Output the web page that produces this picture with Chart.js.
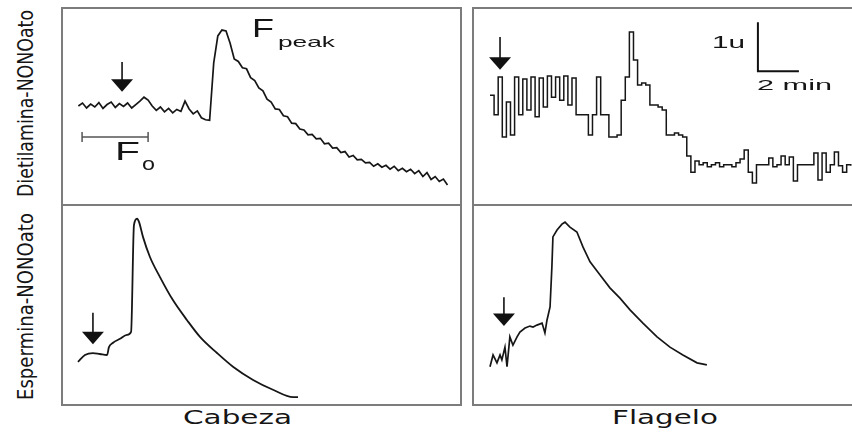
<!DOCTYPE html>
<html><head><meta charset="utf-8">
<script src="https://cdn.jsdelivr.net/npm/chart.js@4/dist/chart.umd.min.js"></script>
<style>
html,body{margin:0;padding:0;background:#fff;}
#stage{position:relative;width:852px;height:436px;overflow:hidden;background:#fff;}
.col{position:absolute;border:2px solid #7c7c7c;box-sizing:border-box;}
.sep{position:absolute;height:2px;background:#7c7c7c;}
canvas{position:absolute;}
.lbl{position:absolute;white-space:nowrap;color:#151515;transform-origin:0 0;}
</style></head>
<body><div id="stage">
<div class="col" style="left:61px;top:7px;width:401px;height:399px"></div>
<div class="col" style="left:472px;top:7px;width:392px;height:399px"></div>
<div class="sep" style="left:61px;top:204px;width:401px"></div>
<div class="sep" style="left:472px;top:204px;width:392px"></div>
<canvas id="c1" width="397" height="195" style="left:63px;top:9px"></canvas>
<canvas id="c2" width="378" height="195" style="left:474px;top:9px"></canvas>
<canvas id="c3" width="397" height="198" style="left:63px;top:206px"></canvas>
<canvas id="c4" width="378" height="198" style="left:474px;top:206px"></canvas>
</div>
<script>
// ---------- DATA (time in min, fluorescence in u) ----------
const rowLabels = ["Dietilamina-NONOato", "Espermina-NONOato"];
const colLabels = ["Cabeza", "Flagelo"];

// Panel 1: Dietilamina / Cabeza (sampled every 0.2 min from t=0.8)
const p1Start = 0.8, p1Step = 0.2;
const p1Values = [
 2.02,2.08,1.98,2.06,2.00,2.09,1.97,2.05,2.10,1.99,2.07,2.01,2.08,1.98,2.05,2.12,
 2.20,2.14,2.02,1.93,2.00,1.90,1.97,1.88,1.95,1.91,2.12,1.96,1.86,1.92,1.78,1.74,
 1.73,2.90,3.45,3.57,3.55,3.30,2.98,2.93,2.80,2.78,2.60,2.54,2.39,2.33,2.16,2.10,
 1.96,1.95,1.82,1.80,1.67,1.66,1.55,1.53,1.43,1.44,1.35,1.36,1.25,1.26,1.16,1.17,
 1.07,1.09,0.98,1.01,0.92,0.93,0.86,0.87,0.79,0.84,0.77,0.81,0.73,0.79,0.70,0.75,
 0.68,0.73,0.64,0.70,0.58,0.66,0.52,0.58,0.48,0.53,0.41
];

// Panel 2: Dietilamina / Flagelo (sampled every 0.2 min from t=0.83)
const p2Start = 0.83, p2Step = 0.2;
const p2Values = [
 2.24,1.84,2.61,1.39,2.10,1.43,2.61,1.84,2.57,1.94,2.61,1.80,2.59,2.00,2.63,2.20,
 2.61,2.14,2.63,2.04,2.59,1.84,1.84,1.84,1.43,1.84,2.61,1.84,1.84,1.39,1.39,1.43,
 2.14,2.61,3.53,2.96,2.45,2.49,2.45,2.04,2.04,2.00,1.94,1.43,1.43,1.47,1.43,1.39,
 1.00,0.67,0.90,0.82,0.86,0.78,0.82,0.86,0.78,0.82,0.82,0.78,0.86,0.94,1.12,0.67,
 0.45,0.82,0.82,0.82,0.96,0.78,0.82,1.00,0.82,0.98,0.49,0.82,0.82,0.82,0.82,1.06,
 0.51,1.06,0.67,0.82,1.08,0.80,0.67,0.82,0.80
];

// Panel 3: Espermina / Cabeza
const p3Times  = [0.78,1.12,1.51,1.85,2.20,2.29,2.49,2.83,3.17,3.37,3.51,3.66,3.76,3.95,4.29,4.78,5.41,6.10,6.73,7.56,8.34,9.32,10.29,11.27,11.51];
const p3Values = [0.88,1.02,1.06,1.04,1.02,1.18,1.27,1.35,1.43,1.49,3.67,3.80,3.73,3.43,3.02,2.61,2.14,1.73,1.39,1.06,0.78,0.51,0.31,0.16,0.16];

// Panel 4: Espermina / Flagelo
const p4Times  = [0.83,0.98,1.17,1.32,1.41,1.56,1.66,1.80,1.95,2.15,2.29,2.54,2.78,2.93,3.12,3.37,3.51,3.61,3.76,3.85,3.90,4.10,4.34,4.49,4.73,5.07,5.37,5.71,6.20,6.68,7.17,7.66,8.29,8.98,9.61,10.24,10.93,11.41];
const p4Values = [0.78,1.02,0.86,1.02,0.92,1.18,0.78,1.39,1.22,1.39,1.49,1.57,1.61,1.59,1.63,1.67,1.47,1.73,2.00,2.82,3.43,3.57,3.69,3.73,3.63,3.53,3.22,2.92,2.65,2.39,2.18,1.94,1.67,1.39,1.18,1.02,0.86,0.82];

// ---------- annotations (data units) ----------
const arrows1 = [{x:2.93, top:2.92, tip:2.31}];
const arrows2 = [{x:1.32, top:3.43, tip:2.76}];
const arrows3 = [{x:1.51, top:1.88, tip:1.24}];
const arrows4 = [{x:1.51, top:2.20, tip:1.61}];
const foBracket = {x0:0.98, x1:4.20, y:1.39};
const scaleBar = {x:13.9, y:2.73, du:1, dt:2};

function series(start, step, vals){ return vals.map((v,i)=>({x:+(start+i*step).toFixed(3), y:v})); }
function pairs(ts, vs){ return ts.map((t,i)=>({x:t, y:vs[i]})); }

const marksPlugin = {
  id:'marks',
  afterDatasetsDraw(chart, args, o){
    const ctx = chart.ctx, xs = chart.scales.x, ys = chart.scales.y;
    ctx.save();
    ctx.strokeStyle = '#111'; ctx.fillStyle = '#111';
    (o.arrows||[]).forEach(a=>{
      const px = xs.getPixelForValue(a.x), pt = ys.getPixelForValue(a.top), pp = ys.getPixelForValue(a.tip);
      const hh = 12.5, hw = 11;
      ctx.lineWidth = 1.6;
      ctx.beginPath(); ctx.moveTo(px, pt); ctx.lineTo(px, pp - hh + 1); ctx.stroke();
      ctx.beginPath(); ctx.moveTo(px - hw, pp - hh); ctx.lineTo(px + hw, pp - hh); ctx.lineTo(px, pp); ctx.closePath(); ctx.fill();
    });
    if (o.bracket){
      const b = o.bracket, x0 = xs.getPixelForValue(b.x0), x1 = xs.getPixelForValue(b.x1), y = ys.getPixelForValue(b.y);
      ctx.strokeStyle = '#555'; ctx.lineWidth = 1.5;
      ctx.beginPath(); ctx.moveTo(x0, y); ctx.lineTo(x1, y);
      ctx.moveTo(x0, y-5); ctx.lineTo(x0, y+5); ctx.moveTo(x1, y-5); ctx.lineTo(x1, y+5); ctx.stroke();
    }
    if (o.scalebar){
      const s = o.scalebar, x0 = xs.getPixelForValue(s.x), y0 = ys.getPixelForValue(s.y);
      const y1 = ys.getPixelForValue(s.y + s.du), x1 = xs.getPixelForValue(s.x + s.dt);
      ctx.strokeStyle = '#111'; ctx.lineWidth = 2;
      ctx.beginPath(); ctx.moveTo(x0, y1); ctx.lineTo(x0, y0); ctx.lineTo(x1, y0); ctx.stroke();
    }
    ctx.restore();
  }
};

function makeChart(id, data, xr, yr, opt){
  return new Chart(document.getElementById(id), {
    type:'line',
    data:{datasets:[{data, borderColor:'#161616', borderWidth:opt.bw||1.5, pointRadius:0,
      stepped: opt.stepped||false, cubicInterpolationMode: opt.smooth?'monotone':'default', tension:0, fill:false}]},
    options:{responsive:false, animation:false, devicePixelRatio:1, layout:{padding:0}, events:[],
      scales:{x:{type:'linear', min:xr[0], max:xr[1], display:false}, y:{type:'linear', min:yr[0], max:yr[1], display:false}},
      plugins:{legend:{display:false}, tooltip:{enabled:false}, marks:opt.marks}},
    plugins:[marksPlugin]
  });
}

makeChart('c1', series(p1Start,p1Step,p1Values), [0.05,19.41], [0.02,4.0], {bw:1.7, marks:{arrows:arrows1, bracket:foBracket}});
makeChart('c2', series(p2Start,p2Step,p2Values), [0.05,18.49], [0.02,4.0], {stepped:true, bw:1.5, marks:{arrows:arrows2, scalebar:scaleBar}});
makeChart('c3', pairs(p3Times,p3Values), [0.05,19.41], [0.02,4.06], {smooth:true, bw:1.8, marks:{arrows:arrows3}});
makeChart('c4', pairs(p4Times,p4Values), [0.05,18.49], [0.02,4.06], {bw:1.7, marks:{arrows:arrows4}});

// ---------- text ----------
const texts = [
  {text:'F', font:'26px "Liberation Sans", Arial, sans-serif', x:252, top:14.6, w:22},
  {text:'peak', font:'15px "Liberation Sans", Arial, sans-serif', x:278, top:33.8, w:57},
  {text:'F', font:'25px "Liberation Sans", Arial, sans-serif', x:115, top:138.8, w:25},
  {text:'o', font:'19px "Liberation Sans", Arial, sans-serif', x:142, top:154, w:13},
  {text:'1u', font:'16px "Liberation Sans", Arial, sans-serif', x:712, top:34.5, w:33},
  {text:'2 min', font:'14px "Liberation Sans", Arial, sans-serif', x:757, top:78, w:75},
  {text:colLabels[0], font:'19px "DejaVu Sans", sans-serif', x:183, top:408, w:109},
  {text:colLabels[1], font:'19px "DejaVu Sans", sans-serif', x:612, top:408, w:106},
  {text:rowLabels[0], font:'21px "Liberation Sans Narrow", "DejaVu Sans Condensed", sans-serif', rot:true, cx:27, cy:103.5, w:187},
  {text:rowLabels[1], font:'21px "Liberation Sans Narrow", "DejaVu Sans Condensed", sans-serif', rot:true, cx:27, cy:306.5, w:187}
];
const stage = document.getElementById('stage');
texts.forEach(L=>{
  const s = document.createElement('span');
  s.className = 'lbl'; s.textContent = L.text; s.style.font = L.font; s.style.lineHeight = '1';
  stage.appendChild(s);
  const r = s.getBoundingClientRect();
  const k = L.w / r.width;
  if (L.rot){
    s.style.left = (L.cx - r.width/2) + 'px'; s.style.top = (L.cy - r.height/2) + 'px';
    s.style.transformOrigin = '50% 50%';
    s.style.transform = 'rotate(-90deg) scaleX(' + k + ')';
  } else {
    s.style.left = L.x + 'px'; s.style.top = L.top + 'px';
    s.style.transform = 'scaleX(' + k + ')';
  }
});
</script>
</body></html>
